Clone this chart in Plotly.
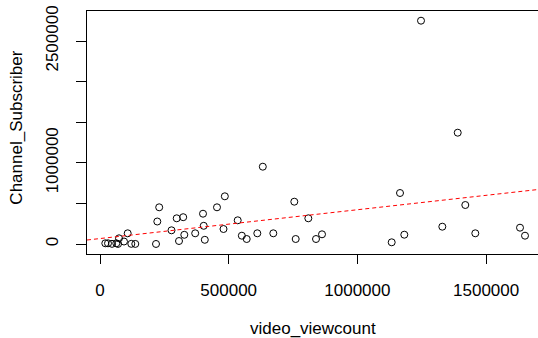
import numpy as np
import plotly.graph_objects as go

# data
video_viewcount = [20600, 31100, 46600, 63300, 70000, 73800, 93200, 107600, 121600, 137100,
                   217600, 222600, 230000, 277800, 298000, 306900, 323200, 327500, 369800, 400200,
                   402900, 407200, 454500, 479800, 485000, 535000, 551000, 569900, 611100, 632500,
                   673300, 754900, 760300, 809300, 839200, 862500, 1133200, 1165500, 1182200, 1247100,
                   1329900, 1389700, 1419200, 1458000, 1631700, 1651100]
channel_subscriber = [8600, 8600, 2000, 8600, 1000, 70200, 30800, 131800, 2000, 1000,
                      500, 277000, 452000, 168700, 316500, 36900, 330000, 113300, 131800, 373000,
                      224100, 51700, 452000, 184700, 587400, 291900, 102200, 61600, 131800, 952000,
                      131800, 520900, 61600, 316500, 61600, 119500, 20900, 628000, 114500, 2750000,
                      213000, 1370700, 480300, 131800, 200700, 102200]

x_tick_vals = [0, 500000, 1000000, 1500000]
x_tick_text = ["0", "500000", "1000000", "1500000"]
y_tick_vals = [0, 500000, 1000000, 1500000, 2000000, 2500000]
y_tick_text = ["0", "", "1000000", "", "", "2500000"]

x_range = [-50500, 1701600]
y_range = [-123150, 2869400]

slope, intercept = np.polyfit(video_viewcount, channel_subscriber, 1)
line_x = np.array(x_range, dtype=float)
line_y = intercept + slope * line_x

FONT = "Liberation Sans, Arial, sans-serif"

fig = go.Figure()
fig.add_trace(go.Scatter(
    x=video_viewcount, y=channel_subscriber, mode="markers",
    marker=dict(symbol="circle-open", size=7, color="black", line=dict(width=1, color="black")),
    showlegend=False, hoverinfo="skip", cliponaxis=True))
fig.add_trace(go.Scatter(
    x=line_x, y=line_y, mode="lines",
    line=dict(color="red", width=1, dash="4px,3px"),
    showlegend=False, hoverinfo="skip"))

fig.update_layout(
    width=538, height=338,
    margin=dict(l=87, r=0, t=11, b=84, autoexpand=False),
    paper_bgcolor="white", plot_bgcolor="white",
    font=dict(family=FONT, size=17, color="black"),
    xaxis=dict(range=x_range, tickvals=x_tick_vals, ticktext=x_tick_text, automargin=False,
               showgrid=False, zeroline=False, showline=True, mirror=True,
               linecolor="black", linewidth=1, ticks="outside", ticklen=9,
               tickcolor="black", tickwidth=1, ticklabelstandoff=12,
               tickfont=dict(family=FONT, size=17, color="black")),
    yaxis=dict(range=y_range, tickvals=y_tick_vals, ticktext=y_tick_text, automargin=False,
               showgrid=False, zeroline=False, showline=True, mirror=False,
               linecolor="black", linewidth=1, ticks="outside", ticklen=10,
               tickcolor="black", tickwidth=1, tickangle=-90, ticklabelstandoff=11,
               tickfont=dict(family=FONT, size=17, color="black")),
    annotations=[
        dict(text="video_viewcount", xref="paper", yref="paper", x=0.5, y=(254 - 328) / 243,
             xanchor="center", yanchor="middle", showarrow=False,
             font=dict(family=FONT, size=17, color="black")),
        dict(text="Channel_Subscriber", xref="paper", yref="paper", x=(17 - 87) / 451, y=0.52,
             xanchor="center", yanchor="middle", textangle=-90, showarrow=False,
             font=dict(family=FONT, size=17, color="black")),
    ],
)

fig.write_html("out.html", config={"displayModeBar": False, "staticPlot": True},
               post_script="document.body.style.margin='0';document.body.style.overflow='hidden';")
